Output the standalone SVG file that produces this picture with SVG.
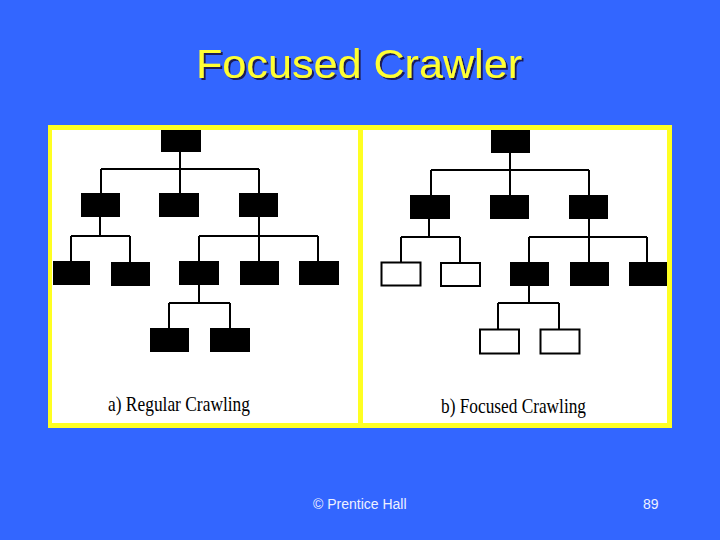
<svg xmlns="http://www.w3.org/2000/svg" width="720" height="540" viewBox="0 0 720 540">
<defs>
<filter id="shadow" x="-5%" y="-20%" width="110%" height="140%">
<feOffset in="SourceAlpha" dx="2" dy="2" result="o"/>
<feFlood flood-color="#1A1A55"/>
<feComposite in2="o" operator="in" result="s"/>
<feMerge><feMergeNode in="s"/><feMergeNode in="SourceGraphic"/></feMerge>
</filter>
</defs>
<style>
.b{fill:#000}
.w{fill:#fff;stroke:#000;stroke-width:2}
.ln{fill:none;stroke:#000;stroke-width:2}
.lbl{font-family:"Liberation Serif","Times New Roman",serif;font-size:21px;fill:#000}
.ft{font-family:"Liberation Sans",Arial,sans-serif;font-size:14px;fill:#EEF0FF}
.tt{font-family:"Liberation Sans",Arial,sans-serif;font-size:41px}
</style>
<rect width="720" height="540" fill="#3366FF"/>
<g id="title">
<text class="tt" x="196" y="78" fill="#FFFF33" filter="url(#shadow)" textLength="326" lengthAdjust="spacingAndGlyphs">Focused Crawler</text>
</g>
<g id="frame">
<rect x="48" y="125" width="624" height="303" fill="#FFFF22"/>
<rect x="52" y="130" width="306" height="293" fill="#fff"/>
<rect x="363" y="130" width="304" height="293" fill="#fff"/>
</g>
<g id="connectors">
<path class="ln" d="M180,152V169M101,169H259M101,169V193M180,169V193M259,169V193"/>
<path class="ln" d="M100,217V236M71,236H130M71,236V261M130,236V262"/>
<path class="ln" d="M259,217V236M199,236H318M199,236V261M259,236V261M318,236V261"/>
<path class="ln" d="M199,285V303M169,303H230M169,303V328M230,303V328"/>
<path class="ln" d="M510,152V170M431,170H589M431,170V195M510,170V195M589,170V195"/>
<path class="ln" d="M429,219V237M401,237H460M401,237V262M460,237V262"/>
<path class="ln" d="M589,219V237M529,237H647M529,237V262M589,237V262M647,237V262"/>
<path class="ln" d="M529,286V303M498,303H559M498,303V329M559,303V329"/>
</g>
<g id="tree-a">
<rect id="a-root" class="b" x="161" y="130" width="40" height="22"/>
<rect id="a-1" class="b" x="81" y="193" width="39" height="24"/>
<rect id="a-2" class="b" x="159" y="193" width="40" height="24"/>
<rect id="a-3" class="b" x="239" y="193" width="39" height="24"/>
<rect id="a-11" class="b" x="53" y="261" width="37" height="24"/>
<rect id="a-12" class="b" x="111" y="262" width="39" height="24"/>
<rect id="a-31" class="b" x="179" y="261" width="40" height="24"/>
<rect id="a-32" class="b" x="240" y="261" width="39" height="24"/>
<rect id="a-33" class="b" x="299" y="261" width="40" height="24"/>
<rect id="a-311" class="b" x="150" y="328" width="39" height="24"/>
<rect id="a-312" class="b" x="210" y="328" width="40" height="24"/>
<text class="lbl" x="108" y="411" textLength="142" lengthAdjust="spacingAndGlyphs">a) Regular Crawling</text>
</g>
<g id="tree-b">
<rect id="b-root" class="b" x="491" y="130" width="39" height="23"/>
<rect id="b-1" class="b" x="410" y="195" width="40" height="24"/>
<rect id="b-2" class="b" x="490" y="195" width="39" height="24"/>
<rect id="b-3" class="b" x="569" y="195" width="39" height="24"/>
<rect id="b-11" class="w" x="381.5" y="262.5" width="39" height="23"/>
<rect id="b-12" class="w" x="441" y="263" width="39" height="23"/>
<rect id="b-31" class="b" x="510" y="262" width="39" height="24"/>
<rect id="b-32" class="b" x="570" y="262" width="39" height="24"/>
<rect id="b-33" class="b" x="629" y="262" width="38" height="24"/>
<rect id="b-311" class="w" x="480" y="329.5" width="39" height="24"/>
<rect id="b-312" class="w" x="540.5" y="329.5" width="39" height="24"/>
<text class="lbl" x="441" y="413" textLength="145" lengthAdjust="spacingAndGlyphs">b) Focused Crawling</text>
</g>
<g id="footer">
<text class="ft" x="313" y="509">© Prentice Hall</text>
<text class="ft" x="643" y="509">89</text>
</g>
</svg>
